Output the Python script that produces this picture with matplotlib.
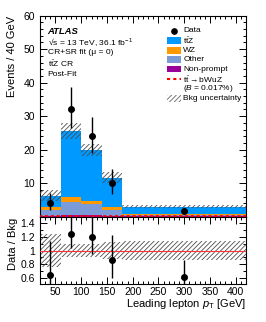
import numpy as np
import matplotlib
matplotlib.use("Agg")
import matplotlib.pyplot as plt
from matplotlib.patches import Rectangle
from matplotlib.lines import Line2D
from matplotlib.ticker import MultipleLocator, FuncFormatter

plt.rcParams['font.family'] = ['Liberation Sans', 'DejaVu Sans']
plt.rcParams['mathtext.fontset'] = 'custom'
plt.rcParams['mathtext.rm'] = 'Liberation Sans'
plt.rcParams['mathtext.it'] = 'Liberation Sans:italic'
plt.rcParams['mathtext.bf'] = 'Liberation Sans:bold'
plt.rcParams['hatch.linewidth'] = 0.6

# ---- data ----
bin_edges = [20, 60, 100, 140, 180, 420]
nonprompt = [0.3, 0.5, 0.5, 0.2, 0.1]
other = [1.8, 4.0, 3.4, 1.7, 0.4]
wz = [0.7, 1.5, 0.7, 0.9, 0.3]
ttz = [3.5, 19.6, 15.4, 8.9, 2.2]
signal = [0.2, 0.2, 0.2, 0.2, 0.2]
bkg_unc_frac = [0.25, 0.09, 0.09, 0.13, 0.14]
data = [4.0, 32.0, 24.0, 10.0, 1.83]
data_err_up = [3.2, 6.7, 5.9, 4.3, 0.73]
data_err_dn = [1.9, 5.6, 4.9, 3.1, 0.55]

c_ttz = '#0099ff'
c_wz = '#ff9900'
c_other = '#7b9ad8'
c_np = '#990099'
c_sig = '#ff0000'

W, H = 266, 322
fig = plt.figure(figsize=(W / 100, H / 100), dpi=100)
L, R = 40 / W, 246 / W
ax = fig.add_axes([L, 1 - 216.7 / H, R - L, (216.7 - 15.7) / H])
rx = fig.add_axes([L, 1 - 284.3 / H, R - L, (284.3 - 216.7) / H])

edges = np.array(bin_edges, float)
lefts = edges[:-1]
widths = np.diff(edges)
centers = lefts + widths / 2

bottom = np.zeros(len(lefts))
for vals, col in [(nonprompt, c_np), (other, c_other), (wz, c_wz), (ttz, c_ttz)]:
    v = np.array(vals)
    ax.bar(lefts, v, width=widths, bottom=bottom, align='edge', color=col, lw=0, zorder=2)
    bottom = bottom + v
bkg = bottom
unc = np.array(bkg_unc_frac)

ax.bar(lefts, 2 * bkg * unc, width=widths, bottom=bkg * (1 - unc), align='edge',
       fill=False, hatch='///////', edgecolor='0.3', lw=0, zorder=3)

ax.stairs(signal, edges, color=c_sig, lw=1.2, linestyle=(0, (2.0, 1.5)), zorder=4)

ax.errorbar(centers, data, yerr=[data_err_dn, data_err_up], fmt='o', color='black',
            ms=4.0, lw=1.0, capsize=0, zorder=5)

ax.set_xlim(20, 420)
ax.set_ylim(0, 60)
ax.set_yticks(np.arange(0, 61, 10))
ax.yaxis.set_major_formatter(FuncFormatter(lambda v, p: '' if v == 0 else f'{v:g}'))
ax.yaxis.set_minor_locator(MultipleLocator(2))
ax.xaxis.set_major_locator(MultipleLocator(50))
ax.xaxis.set_minor_locator(MultipleLocator(10))
ax.set_xticklabels([])

# ratio
d = np.array(data)
ratio = d / bkg
r_up = np.array(data_err_up) / bkg
r_dn = np.array(data_err_dn) / bkg
rx.bar(lefts, 2 * unc, width=widths, bottom=1 - unc, align='edge',
       fill=False, hatch='///////', edgecolor='0.3', lw=0, zorder=2)
rx.axhline(1.0, color='#ff3333', lw=0.8, zorder=3)
rx.errorbar(centers, ratio, yerr=[r_dn, r_up], fmt='o', color='black',
            ms=4.0, lw=1.0, capsize=0, zorder=5)
rx.set_xlim(20, 420)
rx.set_ylim(0.5, 1.5)
rx.set_yticks([0.6, 0.8, 1.0, 1.2, 1.4])
rx.yaxis.set_major_formatter(FuncFormatter(lambda v, p: f'{v:g}'))
rx.yaxis.set_minor_locator(MultipleLocator(0.1))
rx.xaxis.set_minor_locator(MultipleLocator(10))
rx.set_xticks([50, 100, 150, 200, 250, 300, 350, 400])

for a in (ax, rx):
    a.tick_params(which='both', direction='in', top=True, right=True, labelsize=7.5, width=0.7)
    a.tick_params(which='major', length=5)
    a.tick_params(which='minor', length=2.5)
    for s in a.spines.values():
        s.set_linewidth(0.8)
rx.tick_params(axis='x', pad=2)

# axis labels
fig.text(12.5 / W, 1 - 15.7 / H, 'Events / 40 GeV', rotation=90, ha='center', va='top', fontsize=8)
fig.text(12.5 / W, 1 - 217.5 / H, 'Data / Bkg', rotation=90, ha='center', va='top', fontsize=8)
fig.text(246 / W, 1 - 304 / H, r'Leading lepton $p_{\mathrm{T}}$ [GeV]', ha='right', va='center', fontsize=8)

# annotation text
tx = 47.5 / W
fig.text(tx, 1 - 31.7 / H, 'ATLAS', fontsize=6.8, fontweight='bold', fontstyle='italic', va='center')
lines = ['\u221as = 13 TeV, 36.1 fb$^{-1}$', 'CR+SR fit (\u03bc = 0)',
         r'$\mathrm{t\bar{t}Z}$ CR', 'Post-Fit']
for i, t in enumerate(lines):
    fig.text(tx, 1 - (42.3 + 10.6 * i) / H, t, fontsize=6.1, va='center')

# legend (manual)
sx0, sx1 = 167.3, 180.7
lx = 183.3 / W
ly = [30.7, 40.7, 50.3, 59.8, 69.2, 79.4, 89.0, 98.7]
labels = ['Data', r'$\mathrm{t\bar{t}Z}$', 'WZ', 'Other', 'Non-prompt',
          r'$\mathrm{t\bar{t}\rightarrow bWuZ}$', r'($B$ = 0.017%)', 'Bkg uncertainty']
for y, t in zip(ly, labels):
    fig.text(lx, 1 - y / H, t, fontsize=6.0, va='center')
fig.add_artist(Line2D([(sx0 + sx1) / 2 / W], [1 - ly[0] / H], marker='o', color='black', ms=3.8, ls=''))
for y, col in zip(ly[1:5], [c_ttz, c_wz, c_other, c_np]):
    fig.add_artist(Rectangle((sx0 / W, 1 - (y + 3.3) / H), (sx1 - sx0) / W, 6.6 / H,
                             transform=fig.transFigure, color=col, lw=0))
fig.add_artist(Line2D([sx0 / W, sx1 / W], [1 - ly[5] / H] * 2, color=c_sig, lw=1.5,
                      ls=(0, (1.5, 1.5))))
fig.add_artist(Rectangle((sx0 / W, 1 - (ly[7] + 3.3) / H), (sx1 - sx0) / W, 6.6 / H,
                         transform=fig.transFigure, fill=False, hatch='///////',
                         edgecolor='0.4', lw=0))

fig.savefig('out.png', dpi=100)
